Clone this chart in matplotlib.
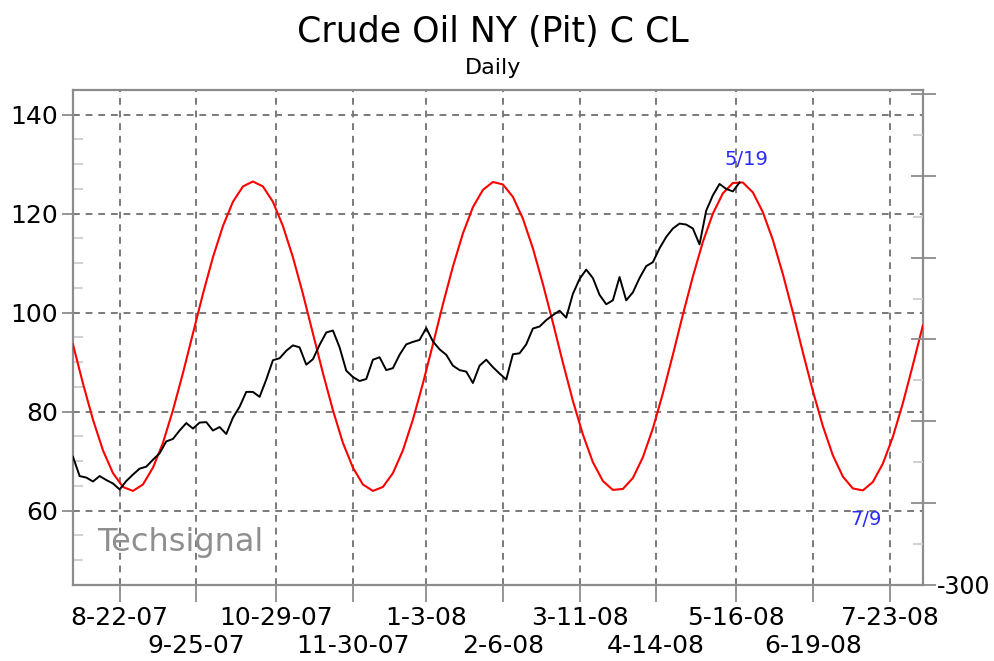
import matplotlib
matplotlib.use("Agg")
import matplotlib.pyplot as plt
from matplotlib.ticker import MultipleLocator, FixedLocator, FixedFormatter
import numpy as np
import pandas as pd

# exchange holidays (trading-day axis)
holidays = ["2007-09-03", "2007-11-22", "2007-12-25", "2008-01-01", "2008-01-21",
            "2008-02-18", "2008-03-21", "2008-05-26", "2008-07-04"]
cal = pd.bdate_range("2007-08-02", periods=256, freq="C", holidays=holidays)

# crude oil close, every 2nd trading day from 8-2-07 to 5-19-08
crude = [70.9, 67.0, 66.7, 65.9, 67.0, 66.2, 65.5, 64.3, 66.0, 67.3,
         68.5, 68.9, 70.3, 71.6, 74.0, 74.5, 76.2, 77.7, 76.6, 77.8,
         77.9, 76.2, 76.9, 75.5, 78.8, 81.0, 84.0, 84.0, 83.0, 86.5,
         90.4, 90.8, 92.3, 93.4, 93.0, 89.5, 90.6, 93.5, 96.0, 96.4,
         93.0, 88.3, 87.0, 86.2, 86.6, 90.5, 91.0, 88.4, 88.8, 91.5,
         93.6, 94.1, 94.5, 96.9, 94.2, 92.6, 91.5, 89.3, 88.4, 88.1,
         85.8, 89.3, 90.5, 89.0, 87.7, 86.5, 91.6, 91.8, 93.6, 96.8,
         97.2, 98.5, 99.5, 100.4, 99.0, 103.8, 106.8, 108.7, 107.0, 103.6,
         101.7, 102.5, 107.2, 102.5, 104.1, 107.0, 109.4, 110.2, 113.0, 115.3,
         117.0, 118.0, 117.8, 117.0, 113.8, 120.6, 123.7, 126.0, 125.0, 124.5,
         126.3]

# cycle line, every 3rd trading day
cycle = [93.6, 85.7, 78.4, 72.2, 67.6, 64.8, 64.0, 65.3, 68.7, 73.7,
         80.3, 87.8, 95.8, 103.8, 111.2, 117.5, 122.4, 125.5, 126.5, 125.5,
         122.4, 117.5, 111.2, 103.8, 95.8, 87.8, 80.3, 73.7, 68.7, 65.3,
         64.0, 64.8, 67.6, 72.2, 78.4, 85.7, 93.6, 101.7, 109.3, 116.0,
         121.3, 124.8, 126.4, 125.9, 123.4, 119.0, 113.0, 105.8, 98.0, 89.9,
         82.2, 75.4, 69.8, 66.0, 64.2, 64.4, 66.6, 70.8, 76.6, 83.7,
         91.5, 99.6, 107.3, 114.3, 120.0, 124.1, 126.2, 126.3, 124.3, 120.3,
         114.7, 107.8, 100.1, 92.0, 84.2, 77.1, 71.2, 66.9, 64.5, 64.1,
         65.8, 69.5, 74.9, 81.7, 89.4, 97.4]

tick_dates = ["2007-08-22", "2007-09-25", "2007-10-29", "2007-11-30", "2008-01-03",
              "2008-02-06", "2008-03-11", "2008-04-14", "2008-05-16", "2008-06-19",
              "2008-07-23"]
tick_labels = ["8-22-07", "9-25-07", "10-29-07", "11-30-07", "1-3-08", "2-6-08",
               "3-11-08", "4-14-08", "5-16-08", "6-19-08", "7-23-08"]

gray = "#8c8c8c"

fig = plt.figure(figsize=(9.94, 6.61), dpi=100)
ax = fig.add_axes([0.0734, 0.115, 0.855, 0.749])

x_crude = np.arange(len(crude)) * 2
x_cycle = np.arange(len(cycle)) * 3
ax.plot(x_cycle, cycle, color="#ff0000", lw=1.5, zorder=3)
ax.plot(x_crude, crude, color="black", lw=1.4, zorder=4)

ax.set_xlim(0, 255)
ax.set_ylim(45, 145)

# two rows of date labels: upper row on major ticks, lower row on minor ticks
tick_idx = [cal.get_loc(pd.Timestamp(d)) for d in tick_dates]
ax.set_xticks(tick_idx[::2])
ax.set_xticklabels(tick_labels[::2], fontsize=18)
ax.set_xticks(tick_idx[1::2], minor=True)
ax.set_xticklabels(tick_labels[1::2], minor=True, fontsize=18)
ax.tick_params(axis="x", which="major", length=12, width=1.3, color=gray, direction="out", pad=3)
ax.tick_params(axis="x", which="minor", length=12, width=1.3, color=gray, direction="out", pad=23)

ax.set_yticks([60, 80, 100, 120, 140])
ax.tick_params(axis="y", labelsize=18, length=8, width=1.3, color=gray, direction="out", pad=3)
ax.yaxis.set_minor_locator(MultipleLocator(5))
ax.tick_params(axis="y", which="minor", direction="in", length=7, width=1.2, color="#c8c8c8")

grid_style = dict(color="#7a7a7a", lw=1.4, linestyle=(0, (3.5, 3)))
ax.grid(True, axis="y", which="major", **grid_style)
ax.grid(True, axis="x", which="both", **grid_style)

for s in ax.spines.values():
    s.set_color(gray)
    s.set_linewidth(1.6)

# right-hand scale
ax2 = ax.twinx()
ax2.set_ylim(-300, 305)
ax2.yaxis.set_major_locator(FixedLocator([-300, -200, -100, 0, 100, 200, 300]))
ax2.yaxis.set_major_formatter(FixedFormatter(["-300", "", "", "", "", "", ""]))
ax2.yaxis.set_minor_locator(MultipleLocator(50))
ax2.tick_params(axis="y", which="major", direction="inout", length=18, width=1.3,
                color=gray, labelsize=17, pad=1)
ax2.tick_params(axis="y", which="minor", direction="in", length=7, width=1.2, color="#c8c8c8")
for s in ax2.spines.values():
    s.set_visible(False)

# annotations
ax.text(cal.get_loc(pd.Timestamp("2008-05-19")) + 2, 130.9, "5/19", color="#2b2bff",
        fontsize=14, ha="center", va="center", zorder=5)
ax.text(cal.get_loc(pd.Timestamp("2008-07-09")) + 3, 58.2, "7/9", color="#2b2bff",
        fontsize=14, ha="center", va="center", zorder=5)
ax.text(0.028, 0.085, "Techsignal", transform=ax.transAxes, color="#8f8f8f",
        fontsize=23, ha="left", va="center")

fig.text(0.496, 0.952, "Crude Oil NY (Pit) C CL", fontsize=25, ha="center", va="center")
fig.text(0.496, 0.897, "Daily", fontsize=16, ha="center", va="center")

fig.savefig("out.png", dpi=100, facecolor="white")
